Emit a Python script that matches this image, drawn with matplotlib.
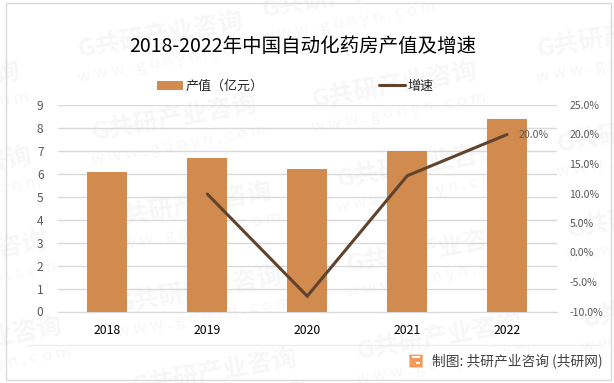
import numpy as np
import matplotlib
matplotlib.use('Agg')
import matplotlib.pyplot as plt
from matplotlib.patches import Rectangle, FancyBboxPatch
from matplotlib.lines import Line2D

plt.rcParams['font.family'] = ['Noto Sans CJK SC', 'DejaVu Sans']

W, H = 614, 383

years = ['2018', '2019', '2020', '2021', '2022']
output_value = [6.08, 6.69, 6.2, 7.0, 8.39]
growth_years = [1, 2, 3, 4]
growth_rate = [9.9, -7.4, 13.0, 20.0]
left_ticks = list(range(0, 10))
right_ticks = [-10, -5, 0, 5, 10, 15, 20, 25]

BAR = '#d18b4f'
LINE = '#5f432c'
GRID = '#d9d9d9'
TICK = '#595959'
MARK = '#f7f7f7'

# watermark centres in image pixels
marks = [(-62, 85), (-50, 170), (-35, 255), (-20, 340),
         (161, 35), (175, 118), (190, 205), (200, 290), (215, 372),
         (345, -5), (395, 85), (420, 165), (430, 250), (440, 337),
         (620, 35), (640, 130), (650, 215), (665, 305)]


def fx(x):
    return x / W


def fy(y):
    return 1 - y / H


fig = plt.figure(figsize=(W / 100, H / 100), dpi=100, facecolor='white')

for mx, my in marks:
    fig.text(fx(mx), fy(my), 'G共研产业咨询', fontsize=18, fontweight='bold', color=MARK,
             rotation=10, ha='center', va='center', zorder=-2)
    fig.text(fx(mx + 4), fy(my + 27), 'w w w . g o n y n . c o m', fontsize=12, color=MARK,
             rotation=10, ha='center', va='center', zorder=-2)

fig.add_artist(Rectangle((fx(5.5), fy(380)), fx(605), 377 / H, transform=fig.transFigure,
                         fill=False, edgecolor=GRID, linewidth=1))
fig.add_artist(Line2D([fx(27), fx(599)], [fy(345), fy(345)], color='#eeeeee', linewidth=1))

ax = fig.add_axes([fx(57.5), fy(311.5), fx(499.5), 206.5 / H])
ax.patch.set_alpha(0)
x = np.arange(len(years))
bars = ax.bar(x, output_value, width=0.4, color=BAR, zorder=3, label='产值（亿元）')
ax.set_xlim(-0.5, 4.5)
ax.set_ylim(0, 9)
ax.set_xticks(x, years)
ax.set_yticks(left_ticks)
ax.grid(axis='y', color=GRID, linewidth=1, zorder=0)
ax.set_axisbelow(True)
ax.tick_params(axis='x', length=0, pad=9, labelsize=8.8, colors='black')
ax.tick_params(axis='y', length=0, pad=10, labelsize=8.6, colors=TICK)
for side in ['top', 'left', 'right']:
    ax.spines[side].set_visible(False)
ax.spines['bottom'].set_color(GRID)

ax2 = ax.twinx()
ax2.patch.set_alpha(0)
line, = ax2.plot(growth_years, growth_rate, color=LINE, linewidth=2.2, label='增速',
                 solid_capstyle='round', solid_joinstyle='miter')
ax2.set_ylim(-10, 25)
ax2.set_yticks(right_ticks, [f'{t:.1f}%' for t in right_ticks])
ax2.tick_params(axis='y', length=0, pad=9, labelsize=7.6, colors=TICK)
for side in ['top', 'left', 'right', 'bottom']:
    ax2.spines[side].set_visible(False)
ax2.annotate(f'{growth_rate[-1]:.1f}%', (growth_years[-1], growth_rate[-1]), xytext=(8, 0),
             textcoords='offset points', fontsize=7.6, color=TICK, va='center')

fig.text(fx(302.5), fy(47), '2018-2022年中国自动化药房产值及增速', fontsize=14,
         color='black', ha='center', va='center')

fig.legend([bars, line], ['产值（亿元）', '增速'], ncols=2, loc='center',
           bbox_to_anchor=(fx(295.5), fy(86.5)), frameon=False, fontsize=9.4,
           handlelength=2.0, columnspacing=8.8, handletextpad=0.2, labelcolor='#262626')

# source logo and text
fig.add_artist(FancyBboxPatch((fx(410), fy(367)), fx(12), 12 / H, boxstyle='round,pad=0.001',
                              transform=fig.transFigure, facecolor='#f39a5c', edgecolor='none'))
fig.add_artist(Rectangle((fx(412), fy(358)), fx(8), 2 / H, transform=fig.transFigure,
                         facecolor='white', edgecolor='none'))
fig.add_artist(Rectangle((fx(416), fy(364)), fx(4), 2 / H, transform=fig.transFigure,
                         facecolor='white', edgecolor='none'))
fig.text(fx(432), fy(360.5), '制图: 共研产业咨询 (共研网)', fontsize=9.9, color='#404040',
         fontweight='medium', ha='left', va='center')

fig.savefig('out.png', dpi=100)
